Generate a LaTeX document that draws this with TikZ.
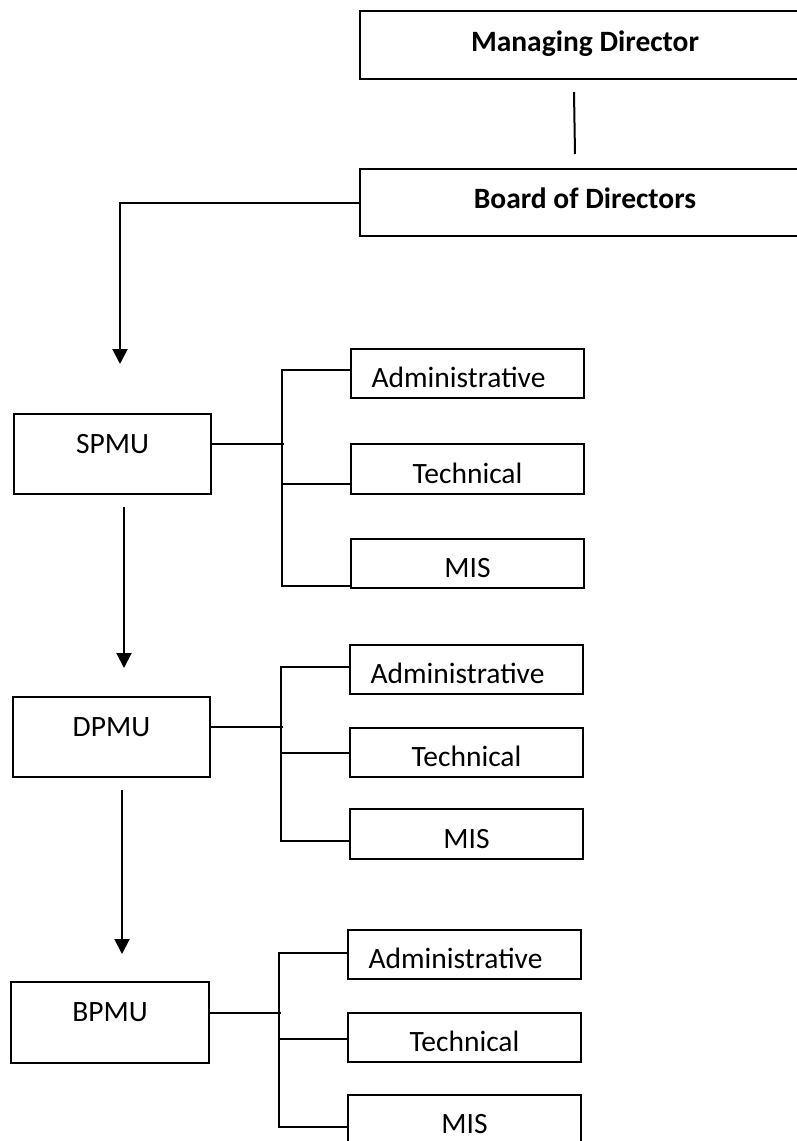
\documentclass[tikz,border=0pt]{standalone}
\usepackage{fontspec}
\setmainfont{Carlito}
\usetikzlibrary{arrows.meta}
\begin{document}
\begin{tikzpicture}[x=1pt,y=-1pt,
  every node/.style={font=\fontsize{29.5}{35}\selectfont},
  ln/.style={line width=2pt},
  arr/.style={ln,-{Triangle[width=15pt,length=15pt]}},
  bx/.style={draw,line width=2pt,inner sep=0pt,anchor=north west,
    minimum height=#1, text height=28pt, text depth=0pt},
  cbox/.style={bx=#1, minimum width=233pt},
  pbox/.style={draw,line width=2pt,inner sep=0pt,anchor=north west,
    minimum width=197pt, minimum height=#1, text height=20pt, text depth=22pt},
  tbox/.style={draw,line width=2pt,inner sep=0pt,anchor=north west,
    minimum width=450pt, minimum height=#1, font=\fontsize{29.5}{35}\selectfont\bfseries}
]
\useasboundingbox (0,0) rectangle (797,1141);
\fill[white] (0,0) rectangle (797,1141);
\clip (0,0) rectangle (797,1141);

% top boxes
\node[tbox=68pt, text height=20pt, text depth=8pt] (md) at (359,10) {Managing Director};
\node[tbox=67pt, text height=20pt, text depth=9pt] (bod) at (359,168) {Board of Directors};

% parent boxes
\node[pbox=80pt] (spmu) at (13,413) {SPMU};
\node[pbox=80pt] (dpmu) at (12,696) {DPMU};
\node[pbox=81pt, minimum width=198pt] (bpmu) at (10,981) {BPMU};

% child boxes
\node[cbox=49pt] (a1) at (350,348) {Administrative\hspace*{18pt}};
\node[cbox=50pt] (t1) at (350,443) {Technical};
\node[cbox=49pt] (m1) at (350,538) {MIS};
\node[cbox=49pt] (a2) at (349,644) {Administrative\hspace*{18pt}};
\node[cbox=49pt] (t2) at (349,727) {Technical};
\node[cbox=50pt] (m2) at (349,808) {MIS};
\node[cbox=49pt] (a3) at (347,929) {Administrative\hspace*{18pt}};
\node[cbox=49pt] (t3) at (347,1012) {Technical};
\node[cbox=49pt] (m3) at (347,1094) {MIS};

% managing director -- board line
\draw[ln] ([xshift=-11pt,yshift=-12pt]md.south) -- ([xshift=-10pt,yshift=14pt]bod.north);

% board -> SPMU
\draw[arr] (bod.west) -| ([xshift=7.5pt,yshift=49pt]spmu.north);

% SPMU -> DPMU
\coordinate (s1) at ([xshift=11.5pt,yshift=-12pt]spmu.south);
\coordinate (d1) at ([yshift=28pt]dpmu.north);
\draw[arr] (s1) -- (s1 |- d1);

% DPMU -> BPMU
\coordinate (s2) at ([xshift=10.5pt,yshift=-12pt]dpmu.south);
\coordinate (d2) at ([yshift=27pt]bpmu.north);
\draw[arr] (s2) -- (s2 |- d2);

% bracket 1
\draw[ln] ([yshift=10pt]spmu.east) -- ++(72,0);
\draw[ln] ([yshift=3.5pt]a1.west) -- ++(-68,0) |- ([yshift=-22.5pt]m1.west);
\draw[ln] ([yshift=-15pt]t1.west) -- ++(-68,0);

% bracket 2
\draw[ln] ([yshift=10pt]dpmu.east) -- ++(72,0);
\draw[ln] ([yshift=2.5pt]a2.west) -- ++(-68,0) |- ([yshift=-7pt]m2.west);
\draw[ln] (t2.west) -- ++(-68,0);

% bracket 3
\draw[ln] ([yshift=9.5pt]bpmu.east) -- ++(71,0);
\draw[ln] ([yshift=1.5pt]a3.west) -- ++(-68,0) |- ([yshift=-7.5pt]m3.west);
\draw[ln] ([yshift=-1.5pt]t3.west) -- ++(-68,0);
\end{tikzpicture}
\end{document}
